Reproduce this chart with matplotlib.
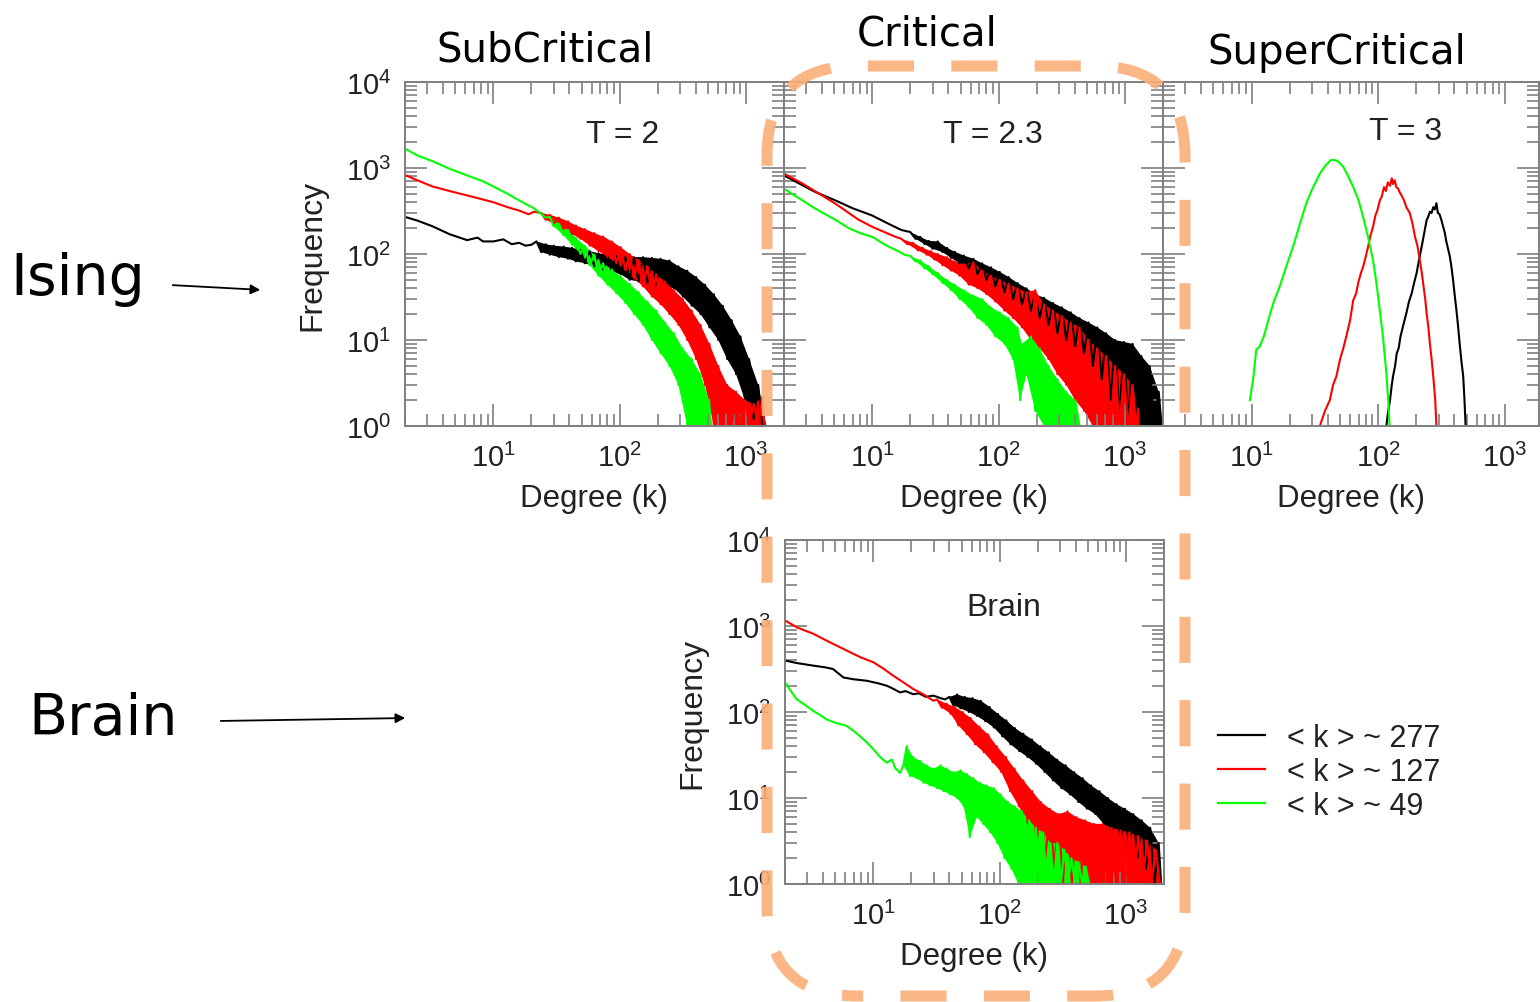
import numpy as np
import matplotlib.pyplot as plt
from matplotlib.lines import Line2D
from matplotlib.patches import FancyBboxPatch, FancyArrowPatch
from matplotlib.ticker import FuncFormatter, LogLocator, NullFormatter

# ---- degree distributions (k, frequency) ----
# Ising, T = 2 (subcritical)
t2_black_k = [2, 2.5, 3.3, 4.5, 6.2, 7.5, 8.3, 10, 12, 14, 16, 18, 20,
              22, 24, 26, 28, 30, 33, 36, 39, 42, 45,
              49, 53, 58, 63, 68, 74, 80, 87, 94, 102,
              111, 120, 130, 141, 153, 166, 180, 195, 211, 229,
              248, 269, 292, 316, 343, 372, 403, 437, 474, 514,
              557, 604, 655, 710, 770, 835, 905, 981, 1060, 1150,
              1250, 1350, 1450]
t2_black_n = [270, 245, 210, 170, 145, 155, 140, 140, 148, 130, 135, 125, 128,
              140, 105, 130, 98, 125, 92, 122, 88, 118, 82,
              112, 78, 108, 72, 102, 66, 98, 62, 95, 58,
              92, 50, 92, 48, 92, 46, 90, 44, 88, 42,
              84, 40, 72, 32, 64, 25, 54, 20, 44, 14,
              34, 10, 25, 6, 17, 4, 11, 2, 6, 1.2,
              3, 1, 1]
t2_red_k = [2, 2.5, 3.3, 4.5, 6.2, 8.3, 10, 13, 16, 19, 21,
            24, 26, 28, 30, 33, 36, 39, 42, 45, 49,
            53, 58, 63, 68, 74, 80, 87, 94, 102, 111,
            120, 130, 141, 153, 166, 180, 195, 211, 229, 248,
            269, 292, 316, 343, 372, 403, 437, 474, 514, 557,
            604, 655, 710, 770, 835, 905, 981, 1060, 1150, 1250,
            1350, 1400]
t2_red_n = [830, 720, 610, 540, 480, 430, 400, 350, 320, 290, 310,
            300, 250, 285, 225, 265, 195, 240, 170, 215, 150,
            195, 125, 175, 108, 160, 92, 140, 78, 120, 65,
            100, 52, 85, 42, 72, 32, 58, 26, 48, 20,
            38, 15, 30, 10, 22, 6, 15, 3, 9, 1,
            5, 1, 3, 1, 2.5, 1, 2, 1, 1.8, 1,
            2.2, 1]
t2_green_k = [2, 2.5, 3.3, 4.5, 6.2, 8.3, 10, 13, 16, 21, 26,
              28, 30, 33, 36, 39, 42, 45, 49, 53, 58,
              63, 68, 74, 80, 87, 94, 102, 111, 120, 130,
              141, 153, 166, 180, 195, 211, 229, 248, 269, 292,
              316, 343, 372, 403, 437, 474, 510, 530]
t2_green_n = [1680, 1400, 1200, 980, 820, 700, 610, 500, 420, 340, 265,
              270, 210, 225, 165, 190, 128, 155, 100, 125, 74,
              98, 56, 78, 44, 66, 35, 55, 27, 45, 20,
              36, 15, 28, 10, 22, 7, 16, 5, 12, 3,
              8, 1, 6, 1, 4, 1, 2, 1]

# Ising, T = 2.3 (critical)
t23_black_k = [2, 2.8, 3.5, 5.1, 7, 10, 13, 17,
               20, 22, 24, 26, 28, 30, 33, 36, 39, 42,
               45, 49, 53, 58, 63, 68, 74, 80, 87, 94,
               102, 111, 120, 130, 141, 153, 166, 180, 195, 211,
               229, 248, 269, 292, 316, 343, 372, 403, 437, 474,
               514, 557, 604, 655, 710, 770, 835, 905, 981, 1060,
               1150, 1250, 1350, 1450, 1570, 1700, 1850, 1950]
t23_black_n = [820, 630, 530, 420, 340, 280, 230, 190,
               180, 150, 158, 130, 142, 115, 140, 105, 118, 90,
               106, 78, 96, 68, 88, 58, 78, 50, 70, 42,
               62, 36, 54, 30, 46, 26, 40, 22, 34, 18,
               31, 15, 27, 12, 24, 10, 21, 8.5, 18, 7,
               16, 5, 14, 3.5, 12, 2, 10, 1.2, 9.5, 1,
               9, 1, 6.5, 1, 5, 1, 2.5, 1]
t23_red_k = [2, 2.8, 3.5, 5.1, 7.8, 10, 13, 15,
             17, 19, 21, 23, 25, 27, 29, 31, 33, 36,
             39, 42, 45, 49, 53, 58, 63, 68, 74, 80,
             87, 94, 102, 111, 120, 130, 141, 153, 166, 180,
             195, 211, 229, 248, 269, 292, 316, 343, 372, 403,
             437, 474, 514, 557, 604, 655, 710, 770, 835, 905,
             981, 1060, 1150, 1220, 1270, 1280]
t23_red_n = [860, 660, 540, 385, 250, 207, 175, 160,
             150, 130, 135, 110, 118, 98, 108, 86, 100, 74,
             92, 64, 82, 56, 76, 44, 80, 40, 64, 34,
             56, 28, 50, 22, 45, 18, 40, 14, 36, 10,
             38, 8, 26, 6, 22, 4, 19, 3, 16, 2,
             14, 1.5, 10, 1, 8, 1, 6.5, 1, 5, 1,
             4, 1, 3, 1, 1.6, 1]
t23_green_k = [2, 2.8, 3.5, 5.1, 6.5, 8, 10, 13, 16, 18,
               20, 22, 24, 26, 28, 30, 33, 36, 39, 42,
               45, 49, 53, 58, 63, 68, 74, 80, 87, 94,
               102, 111, 120, 130, 141, 148, 153, 166, 180, 195,
               211, 229, 248, 269, 292, 316, 343, 372, 403, 437]
t23_green_n = [575, 420, 340, 250, 200, 175, 158, 125, 108, 98,
               95, 82, 84, 68, 72, 58, 60, 46, 50, 38,
               44, 30, 38, 24, 33, 18, 30, 15, 24, 11,
               21, 9, 18, 6, 14, 2, 9, 4, 11, 1.5,
               8, 1, 5, 1, 3.5, 1, 2.5, 1, 2, 1]

# Ising, T = 3 (supercritical)
t3_black_k = [116, 120, 124, 128, 131, 136, 140, 145, 150, 158,
              167, 175, 184, 192, 201, 210, 220, 230, 241, 248,
              256, 264, 272, 280, 288, 296, 305, 315, 326, 336,
              345, 356, 368, 379, 390, 402, 415, 428, 440, 455,
              469, 480, 490]
t3_black_n = [1, 1.5, 2, 3, 3.8, 5, 7, 8, 11, 15,
              20.6, 28, 35, 46, 60, 85, 120, 170, 247, 270,
              310, 300, 350, 330, 390, 300, 290, 250, 207, 175,
              140, 115, 93, 70, 50, 33, 22, 14, 9, 5.5,
              3.8, 2, 1]
t3_red_k = [34.6, 38, 41.5, 44, 46.8, 50, 53, 56, 60, 63.5,
            67, 70, 73, 76, 80, 83, 87, 91, 95, 99,
            103, 107, 111, 115, 119, 124, 128, 131, 135, 139,
            143, 148, 154, 160, 167, 178, 186, 195, 204, 213,
            221, 228, 235, 241, 249, 256, 264, 272, 282, 288]
t3_red_n = [1, 1.5, 2, 3, 3.8, 6, 8, 11, 17, 29,
            35, 48, 60, 71, 95, 120, 165, 207, 280, 330,
            420, 470, 600, 540, 680, 620, 760, 650, 720, 600,
            580, 520, 470, 420, 350, 296, 230, 160, 125, 85,
            60, 42, 30, 20.6, 14, 9, 6, 3.8, 2, 1]
t3_green_k = [9.7, 10.3, 10.9, 11.6, 12.5, 14, 15, 16.7, 19, 21.3,
              24, 27, 30, 34.6, 38, 42, 44, 48, 53, 58,
              63.5, 70, 76, 83, 91, 97, 103, 109, 116, 120, 123]
t3_green_n = [2, 3.5, 7.7, 8.4, 11, 20, 28, 42, 75, 122,
              220, 386, 560, 860, 1050, 1230, 1250, 1200, 1030, 800,
              600, 420, 270, 160, 85, 45, 22, 11, 4.1, 2, 1]

# brain functional networks
brain_black_k = [2, 2.5, 3.35, 4.2, 4.8, 5.8, 7, 8.85, 11, 12.8,
                 14, 16.3, 18, 20.7, 23, 26, 29.9, 34, 37,
                 40, 43, 46, 49, 53, 57, 61, 66, 71, 77,
                 83, 90, 97, 105, 113, 122, 132, 143, 154, 166,
                 180, 194, 210, 227, 245, 264, 285, 308, 333, 360,
                 389, 420, 454, 490, 529, 571, 617, 666, 720, 777,
                 840, 907, 980, 1058, 1143, 1234, 1333, 1440, 1555, 1680,
                 1814, 1900]
brain_black_n = [397, 370, 346, 330, 316, 252, 240, 231, 215, 202,
                 190, 169, 175, 161, 165, 150, 155, 145, 140,
                 150, 120, 160, 110, 150, 100, 145, 90, 135, 78,
                 115, 66, 95, 52, 80, 42, 65, 35, 56, 30,
                 48, 25, 40, 20, 34, 16, 28, 13, 24, 11,
                 20, 9, 17, 7.5, 14, 6.5, 12, 5, 10, 4,
                 8.5, 3.3, 7.5, 2.7, 6.5, 2, 5.5, 1.5, 4.5, 1,
                 3, 1]
brain_red_k = [2, 2.5, 3.35, 4.5, 6.15, 8, 10, 12, 14.4, 17,
               20.7, 25, 29.9,
               32, 35, 38, 41, 44, 47, 51, 55, 59, 64,
               69, 75, 81, 88, 95, 103, 112, 121, 131, 142,
               154, 167, 181, 196, 212, 230, 249, 270, 293, 317,
               344, 373, 404, 438, 475, 515, 558, 605, 656, 711,
               771, 836, 906, 982, 1065, 1155, 1250, 1355, 1470, 1590,
               1720, 1860]
brain_red_n = [1160, 960, 812, 650, 519, 430, 379, 320, 264, 225,
               185, 160, 135,
               140, 112, 125, 95, 115, 70, 100, 55, 85, 42,
               68, 34, 55, 26, 40, 20, 30, 12, 22, 8,
               16, 5, 12, 3, 9, 2, 7.5, 1.5, 6.5, 1,
               7, 1, 6, 1, 5.5, 1, 5, 1, 5, 1,
               4.5, 1, 4.2, 1, 4, 1, 3.6, 1, 3.2, 1,
               2.5, 1]
brain_green_k = [2, 2.2, 2.47, 2.9, 3.35, 3.8, 4.27, 5, 6.15, 7,
                 7.8, 8.8, 10, 11.3, 12.8, 14, 15, 16.3,
                 17.3, 18.4, 19.5, 20.7, 22, 23.5, 25, 26.4, 28, 30,
                 32, 34, 36, 38, 40.5, 43, 46, 49, 52, 55,
                 58, 62, 66, 70, 74, 79, 84, 90, 96, 102,
                 109, 116, 124, 132, 141, 150, 160, 171, 182, 194,
                 207, 221, 236, 252, 268, 286, 305, 325, 347, 370,
                 395, 421, 450, 480, 510]
brain_green_n = [221, 180, 141, 120, 103, 92, 82, 75, 69, 60,
                 52.6, 45, 37, 30, 25.7, 28, 22, 19.6,
                 24, 40, 18, 30, 17, 27, 15, 24, 14, 22,
                 13, 24, 12, 22, 11, 20, 10, 21, 8, 19,
                 3.5, 17, 6, 15, 5, 14, 4, 13, 3, 11,
                 2, 9, 1.5, 8, 1, 7, 1, 5.5, 1, 4.5,
                 1, 4, 1, 3, 1, 3, 1, 2.5, 1, 2,
                 1, 1.8, 1, 1.6, 1]

# degree above which each series scatters from bin to bin
t2_scatter_from = [22, 24, 28]
t23_scatter_from = [20, 17, 20]
brain_scatter_from = [40, 32, 17.3]

mean_degree_labels = ['< k > ~ 277', '< k > ~ 127', '< k > ~ 49']
phase_titles = ['SubCritical', 'Critical', 'SuperCritical']

BLACK, RED, GREEN = '#000000', '#ff0000', '#00ff00'
FRAME = '#7f7f7f'
INK = '#222222'
ORANGE = '#fbae78'

plt.rcParams['font.family'] = ['Liberation Sans', 'DejaVu Sans']
plt.rcParams['mathtext.fontset'] = 'custom'
plt.rcParams['mathtext.rm'] = 'Liberation Sans'

W, H = 1540, 1003
fig = plt.figure(figsize=(W / 100, H / 100), dpi=100)


def fx(px):
    return px / W


def fy(py):
    return 1 - py / H


def panel(left, top, width=379, height=344):
    return fig.add_axes([fx(left), fy(top + height), width / W, height / H])


power_fmt = FuncFormatter(lambda v, p: r'$\mathregular{10^{%d}}$' % round(np.log10(v)))


def style(ax, xmax=2000, ylabels=False):
    ax.set_xscale('log')
    ax.set_yscale('log')
    ax.set_xlim(2, xmax)
    ax.set_ylim(1, 1e4)
    for s in ax.spines.values():
        s.set_color(FRAME)
        s.set_linewidth(1.4)
    for axis in (ax.xaxis, ax.yaxis):
        axis.set_major_locator(LogLocator(base=10, numticks=10))
        axis.set_minor_locator(LogLocator(base=10, subs=np.arange(2, 10), numticks=10))
        axis.set_major_formatter(power_fmt)
        axis.set_minor_formatter(NullFormatter())
    ax.tick_params(which='both', direction='in', top=True, right=True,
                   color=FRAME, width=1.2, labelcolor=INK, labelsize=21)
    ax.tick_params(which='major', length=15.5)
    ax.tick_params(which='minor', length=8.5)
    ax.tick_params(axis='x', pad=12)
    ax.tick_params(axis='y', pad=10, labelleft=ylabels)
    ax.set_xlabel('Degree (k)', fontsize=22.5, color=INK)
    ax.xaxis.set_label_coords(0.5, -0.165)
    if ylabels:
        ax.set_ylabel('Frequency', fontsize=23, color=INK)
        ax.yaxis.set_label_coords(-0.205, 0.5)


def curves(ax, series, scatter_from=None):
    # black underneath, green on top
    for i, ((k, n), c) in enumerate(zip(series, (BLACK, RED, GREEN))):
        k = np.asarray(k, float)
        n = np.asarray(n, float)
        if scatter_from is not None:
            # shade the bin-to-bin scatter: alternate bins form the two edges
            tail = k >= scatter_from[i]
            kt, nt = k[tail], n[tail]
            ax.fill(np.r_[kt[0::2], kt[1::2][::-1]], np.r_[nt[0::2], nt[1::2][::-1]],
                    color=c, lw=0)
        ax.plot(k, n, color=c, lw=1.5)


ax1 = panel(405, 83)
ax2 = panel(784, 83)
ax3 = panel(1163, 83, width=376)
ax4 = panel(785, 541)

style(ax1, ylabels=True)
style(ax2)
style(ax3, xmax=1860)
style(ax4, ylabels=True)

curves(ax1, [(t2_black_k, t2_black_n), (t2_red_k, t2_red_n), (t2_green_k, t2_green_n)],
       t2_scatter_from)
curves(ax2, [(t23_black_k, t23_black_n), (t23_red_k, t23_red_n), (t23_green_k, t23_green_n)],
       t23_scatter_from)
curves(ax3, [(t3_black_k, t3_black_n), (t3_red_k, t3_red_n), (t3_green_k, t3_green_n)])
curves(ax4, [(brain_black_k, brain_black_n), (brain_red_k, brain_red_n),
             (brain_green_k, brain_green_n)], brain_scatter_from)

for ax, label, x, y in [(ax1, 'T = 2', 0.575, 0.849), (ax2, 'T = 2.3', 0.551, 0.849),
                        (ax3, 'T = 3', 0.646, 0.858), (ax4, 'Brain', 0.578, 0.805)]:
    ax.text(x, y, label, transform=ax.transAxes, ha='center', va='center',
            fontsize=23, color=INK)

# column headings and row names
for title, x, y in zip(phase_titles, (545, 927, 1337), (62, 46, 64)):
    fig.text(fx(x), fy(y), title, ha='center', va='baseline', fontsize=29,
             family='DejaVu Sans', color='black')
fig.text(fx(78), fy(295), 'Ising', ha='center', va='baseline', fontsize=41,
         family='DejaVu Sans', color='black')
fig.text(fx(103), fy(735), 'Brain', ha='center', va='baseline', fontsize=41,
         family='DejaVu Sans', color='black')

for start, end in [((170, 286), (263, 291)), ((218, 722), (408, 719))]:
    fig.add_artist(FancyArrowPatch((fx(start[0]), fy(start[1])), (fx(end[0]), fy(end[1])),
                                   transform=fig.transFigure, arrowstyle='-|>',
                                   mutation_scale=14, lw=1.3, color='black'))

# dashed rounded frame around the critical column
frame = FancyBboxPatch((7.67, (H - 997) / 100), 4.18, 9.30,
                       boxstyle='round,pad=0,rounding_size=0.9',
                       transform=fig.dpi_scale_trans, fill=False, ec=ORANGE,
                       lw=7.9, ls=(3.64, (4.2, 3.4)), alpha=0.9, zorder=10)
fig.add_artist(frame)

handles = [Line2D([], [], color=c, lw=1.6) for c in (BLACK, RED, GREEN)]
fig.legend(handles, mean_degree_labels, loc='upper left',
           bbox_to_anchor=(fx(1218), fy(724)), frameon=False, fontsize=22,
           handlelength=1.55, handletextpad=0.7, labelspacing=0.13,
           borderpad=0, borderaxespad=0, labelcolor=INK)

fig.savefig('out.png', dpi=100)
